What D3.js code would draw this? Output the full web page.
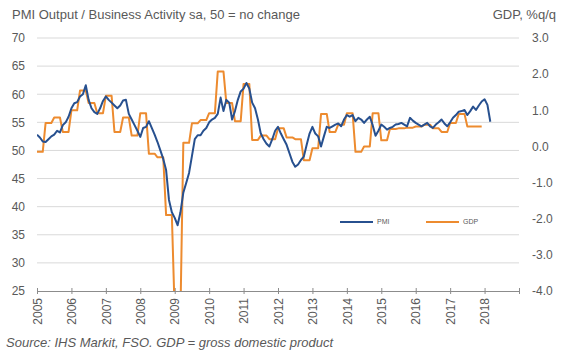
<!DOCTYPE html>
<html><head><meta charset="utf-8">
<script src="https://cdn.jsdelivr.net/npm/d3@7"></script>
<style>
body{margin:0;background:#fff;}
svg text{font-family:"Liberation Sans",Arial,sans-serif;fill:#595959;}
</style></head>
<body><svg id="c" width="562" height="354"></svg>
<script>
// ---- data ----
const startYear = 2005;
const yearTicks = [2005,2006,2007,2008,2009,2010,2011,2012,2013,2014,2015,2016,2017,2018,2019];
const yearLabels = ["2005","2006","2007","2008","2009","2010","2011","2012","2013","2014","2015","2016","2017","2018",""];
const leftTicks = [25,30,35,40,45,50,55,60,65,70];
const rightTicks = [-4,-3,-2,-1,0,1,2,3];
// PMI monthly, Jan 2005 - Mar 2018
const pmi2005 = [52.8,52.3,51.6,51.5,52.0,52.5,52.8,53.5,53.2,54.5,55.0,56.0];
const pmi2006 = [57.5,58.4,58.6,59.6,60.0,61.6,59.0,57.5,56.8,56.5,57.5,58.8];
const pmi2007 = [59.6,59.0,58.5,58.0,57.5,58.0,58.9,59.0,56.5,55.5,54.5,53.5];
const pmi2008 = [52.4,54.0,54.2,55.2,54.0,52.8,51.5,50.0,48.5,46.5,41.2,39.0];
const pmi2009 = [38.0,36.7,39.0,42.5,44.2,46.0,49.0,52.0,52.7,52.7,53.5,54.0];
const pmi2010 = [55.0,55.5,55.8,56.5,59.4,57.0,59.0,58.5,55.5,57.0,59.0,60.5];
const pmi2011 = [61.0,62.0,61.0,58.5,57.5,55.5,53.0,52.0,51.2,50.7,52.0,53.5];
const pmi2012 = [54.2,53.0,52.0,51.0,49.5,48.0,47.1,47.5,48.3,48.9,51.0,53.0];
const pmi2013 = [54.2,53.0,52.5,50.7,52.5,54.2,54.0,54.3,54.6,54.8,54.3,55.5];
const pmi2014 = [56.3,56.0,56.3,55.2,55.8,55.5,54.9,55.5,56.0,54.5,52.6,53.5];
const pmi2015 = [54.6,54.2,53.7,54.0,54.2,54.6,54.7,54.9,54.6,54.3,55.8,55.3];
const pmi2016 = [54.9,54.6,54.3,54.6,54.9,54.3,54.0,54.6,55.0,55.5,54.8,54.3];
const pmi2017 = [55.0,55.8,56.3,56.9,57.0,57.2,56.3,57.0,57.8,57.2,58.0,58.7];
const pmi2018 = [59.1,58.1,55.1];
const pmiValues = [].concat(pmi2005,pmi2006,pmi2007,pmi2008,pmi2009,pmi2010,pmi2011,pmi2012,pmi2013,pmi2014,pmi2015,pmi2016,pmi2017,pmi2018);
// GDP quarterly % q/q, 2005Q1 - 2017Q4
const gdpValues = [
  -0.15,0.65,0.8,0.4,
  1.0,1.55,1.2,0.92,
  1.4,0.4,0.8,0.3,
  0.92,-0.2,-0.3,-1.9,
  -4.6,0.1,0.64,0.73,
  0.92,2.07,1.2,0.7,
  1.73,0.18,0.3,0.2,
  0.5,0.25,0.2,-0.38,
  -0.05,0.9,0.4,0.6,
  0.92,-0.15,0.0,0.92,
  0.17,0.48,0.5,0.52,
  0.55,0.6,0.5,0.4,
  0.65,0.9,0.55,0.55];

// ---- layout ----
const L = 37, R = 519, T = 38, B = 291;
const svg = d3.select("#c");
const x = d3.scaleLinear().domain([2005, 2019]).range([L, R]);
const yL = d3.scaleLinear().domain([25, 70]).range([B, T]);
const yR = d3.scaleLinear().domain([-4, 3]).range([B, T]);

// gridlines
svg.append("g").selectAll("line").data(leftTicks.filter(d => d > 25)).join("line")
  .attr("x1", L).attr("x2", R).attr("y1", d => yL(d)).attr("y2", d => yL(d))
  .attr("stroke", "#d9d9d9").attr("stroke-width", 1);

// left axis labels
const gl = svg.append("g").attr("transform", `translate(${L},0)`)
  .call(d3.axisLeft(yL).tickValues(leftTicks).tickSize(0).tickPadding(12).tickFormat(d3.format("d")));
gl.select(".domain").remove();
gl.selectAll("text").style("font-size", "12px").style("fill", "#595959");

// right axis labels
const gr = svg.append("g").attr("transform", `translate(${R},0)`)
  .call(d3.axisRight(yR).tickValues(rightTicks).tickSize(0).tickPadding(13).tickFormat(d => d.toFixed(1)));
gr.select(".domain").remove();
gr.selectAll("text").style("font-size", "12px").style("fill", "#595959");

// bottom axis
const gb = svg.append("g").attr("transform", `translate(0,${B})`)
  .call(d3.axisBottom(x).tickValues(yearTicks).tickSize(3).tickFormat((d, i) => yearLabels[i]));
gb.select(".domain").attr("stroke", "#8c8c8c");
gb.selectAll(".tick line").attr("y1", -3).attr("y2", 3).attr("stroke", "#8c8c8c");
gb.selectAll("text").attr("transform", "rotate(-90)").attr("x", -7).attr("y", 0).attr("dy", "0.35em")
  .attr("text-anchor", "end").style("font-size", "12px").style("fill", "#595959");

// clip
svg.append("clipPath").attr("id", "clip").append("rect")
  .attr("x", L).attr("y", T - 5).attr("width", R - L).attr("height", B - T + 5);

// GDP monthly steps from quarterly values
const gdpMonthly = [];
gdpValues.forEach((v, q) => { for (let k = 0; k < 3; k++) gdpMonthly.push({t: startYear + (q * 3 + k) / 12, v}); });
const pmiPts = pmiValues.map((v, i) => ({t: startYear + i / 12, v}));

svg.append("path").datum(gdpMonthly).attr("clip-path", "url(#clip)")
  .attr("fill", "none").attr("stroke", "#ed8b2f").attr("stroke-width", 2).attr("stroke-linejoin", "round")
  .attr("d", d3.line().x(d => x(d.t)).y(d => yR(d.v)));
svg.append("path").datum(pmiPts).attr("clip-path", "url(#clip)")
  .attr("fill", "none").attr("stroke", "#27508f").attr("stroke-width", 2).attr("stroke-linejoin", "round")
  .attr("d", d3.line().x(d => x(d.t)).y(d => yL(d.v)));

// legend
const leg = [{name: "PMI", color: "#27508f", x: 340}, {name: "GDP", color: "#ed8b2f", x: 426}];
const lg = svg.append("g").selectAll("g").data(leg).join("g").attr("transform", d => `translate(${d.x},222)`);
lg.append("line").attr("x1", 0).attr("x2", 33).attr("stroke", d => d.color).attr("stroke-width", 2);
lg.append("text").attr("x", 37).attr("dy", "0.35em").style("font-size", "7px").text(d => d.name);

// titles
svg.append("text").attr("x", 12).attr("y", 19).style("font-size", "13px").text("PMI Output / Business Activity sa, 50 = no change");
svg.append("text").attr("x", 556).attr("y", 19).attr("text-anchor", "end").style("font-size", "13px").text("GDP, %q/q");
svg.append("text").attr("x", 6).attr("y", 347).style("font-size", "13px").style("font-style", "italic").text("Source: IHS Markit, FSO. GDP = gross domestic product");
</script></body></html>
